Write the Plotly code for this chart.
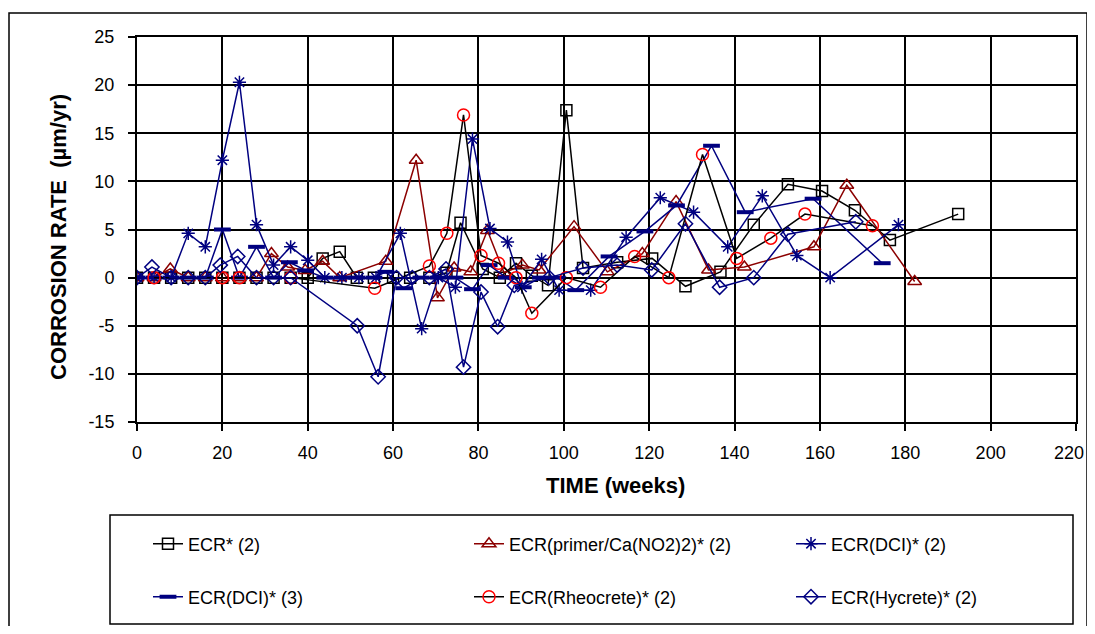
import plotly.graph_objects as go

# weeks / corrosion rate (um/yr)
ecr_x = [0, 4, 8, 12, 16, 20, 24, 28, 32, 36, 40, 43.5, 47.5, 51.5, 55.5, 60, 64, 68.5, 72.5, 75.8,
         81, 85, 88.8, 92.5, 96.3, 100.6, 104.5, 112.5, 120.7, 128.5, 136.7, 144.5, 152.5, 160.5,
         168.2, 176.4, 192.4]
ecr_y = [0, 0, 0, 0, 0, 0, 0, 0, 0, 0, 0, 2.0, 2.7, 0, 0, 0, 0, 0, 0.5, 5.7,
         0.9, 0, 1.5, 0.2, -0.8, 17.4, 1.0, 1.6, 2.0, -0.9, 0.6, 5.5, 9.7, 9.0,
         7.0, 3.9, 6.6]

primer_x = [0, 4, 7.8, 12, 16, 20, 24, 28, 31.5, 35.3, 39.4, 43.5, 47.5, 58.3, 65.4, 70.4, 74.3,
            78.2, 82.1, 86, 90.3, 94.2, 102.4, 110.2, 118.4, 126.3, 133.9, 142.3, 158.6, 166.3, 182.2]
primer_y = [0, 0, 0.9, 0, 0, 0, 0, 0, 2.5, 1.1, 0.75, 1.7, 0, 1.7, 12.2, -2.1, 1.0,
            0.6, 4.9, 0.5, 1.3, 0.8, 5.3, 0.6, 2.5, 7.9, 0.8, 1.1, 3.2, 9.6, -0.4]

dci2_x = [0, 4, 8, 12, 16, 20, 24, 28, 32, 36, 40, 44, 48, 52, 56, 61.7, 66.7, 70.6, 74.6, 78.6,
          82.7, 86.8, 90.2, 94.8, 98.9, 106.3, 114.6, 122.6, 130.4, 138.4, 146.5, 154.6, 162.4, 178.4]
dci2_y = [0, 0, 0, 4.6, 3.2, 12.2, 20.3, 5.5, 1.3, 3.2, 1.8, 0, 0, 0, 0, 4.6, -5.3, 0, -1.0, 14.4,
          5.1, 3.7, -1.0, 1.9, -1.3, -1.3, 4.2, 8.3, 6.8, 3.2, 8.5, 2.3, 0, 5.5]

dci3_x = [0, 4, 8, 12, 16, 20, 24, 28, 32, 35.7, 39.5, 44, 48, 51.5, 55.5, 58.3, 62.5, 66.5, 70.5,
          74.5, 78.6, 82.5, 86.5, 90.5, 94.5, 98.5, 102.8, 110.6, 119, 126.4, 134.6, 142.5, 158.4, 174.6]
dci3_y = [0, 0, 0, 0, 0, 5.0, 0, 3.2, 0, 1.6, 0.75, 0, 0, 0, 0, 0.6, -1.1, 0, 0,
          0, -1.2, 1.3, 0, -1.0, 0, 0, -1.3, 2.2, 4.8, 7.5, 13.7, 6.8, 8.2, 1.5]

rheo_x = [4, 20, 24, 36, 55.7, 68.5, 72.6, 76.5, 80.6, 84.7, 88.8, 92.5, 100.6, 108.6, 116.6,
          124.6, 132.5, 140.5, 148.5, 156.5, 172.3]
rheo_y = [0, 0, 0, 0, -1.1, 1.2, 4.6, 16.9, 2.3, 1.5, 0, -3.7, 0, -1.0, 2.2,
          0, 12.8, 2.0, 4.1, 6.6, 5.4]

hyc_x = [0, 3.5, 8, 12, 16, 19.5, 23.6, 28, 32, 36, 51.6, 56.5, 60.8, 64.5, 68.5, 72.4, 76.5, 80.6,
         84.5, 88.4, 96.6, 104.5, 112.5, 120.6, 128.5, 136.5, 144.5, 152.5, 168.4]
hyc_y = [0, 1.1, 0, 0, 0, 1.3, 2.2, 0, 0, 0, -5.0, -10.3, 0, 0, 0, 0.9, -9.3, -1.5,
         -5.1, -0.8, 0, 1.0, 1.3, 0.8, 5.6, -1.0, 0, 4.5, 5.8]

# tick labels (plain hyphen minus like the original)
x_ticks = [0, 20, 40, 60, 80, 100, 120, 140, 160, 180, 200, 220]
x_ticklabels = ['0', '20', '40', '60', '80', '100', '120', '140', '160', '180', '200', '220']
y_ticks = [-15, -10, -5, 0, 5, 10, 15, 20, 25]
y_ticklabels = ['-15', '-10', '-5', '0', '5', '10', '15', '20', '25']

NAVY = '#000080'
MAROON = '#8B0000'
FONT = 'Arial, Liberation Sans, sans-serif'

# the page body has an 8px margin, so the figure is offset and
# everything below is given in page pixels
OFF = 8
W, H = 1095 - OFF, 634 - 2 * OFF
L, R, T, B = 137, 1076, 37, 422   # plot area, page pixels


def px(x):
    return (x - L) / (R - L)


def py(y):
    return (B - y) / (B - T)


fig = go.Figure()

series = [
    ('ECR* (2)', ecr_x, ecr_y, 'black', dict(symbol='square-open', size=11, color='black')),
    ('ECR(primer/Ca(NO2)2)* (2)', primer_x, primer_y, MAROON,
     dict(symbol='triangle-up-open', size=12, color=MAROON)),
    ('ECR(DCI)* (2)', dci2_x, dci2_y, NAVY, dict(symbol='asterisk-open', size=11, color=NAVY)),
    ('ECR(DCI)* (3)', dci3_x, dci3_y, NAVY,
     dict(symbol='line-ew-open', size=12, color=NAVY, line=dict(width=4, color=NAVY))),
    ('ECR(Rheocrete)* (2)', rheo_x, rheo_y, 'black', dict(symbol='circle-open', size=12, color='red')),
    ('ECR(Hycrete)* (2)', hyc_x, hyc_y, NAVY, dict(symbol='diamond-open', size=11, color=NAVY)),
]

# one legend per entry so the 3x2 grid lines up like the original
leg_pos = [(148, 544), (469, 544), (791, 544), (148, 597), (469, 597), (791, 597)]

legends = {}
for i, (name, xs, ys, lc, mk) in enumerate(series):
    mk.setdefault('line', dict(width=1.5, color=mk['color']))
    lg = 'legend' if i == 0 else 'legend%d' % (i + 1)
    fig.add_trace(go.Scatter(
        x=xs, y=ys, name=name, mode='lines+markers',
        line=dict(color=lc, width=1.5),
        marker=mk,
        legend=lg, showlegend=True,
    ))
    lx, ly = leg_pos[i]
    legends[lg] = dict(x=px(lx), y=py(ly), xanchor='left', yanchor='middle',
                       bgcolor='rgba(0,0,0,0)', borderwidth=0,
                       font=dict(size=18, family=FONT, color='black'))

axis_common = dict(
    showgrid=True, gridcolor='black', gridwidth=1.8,
    zeroline=False, automargin=False,
    showline=True, linecolor='black', linewidth=2, mirror=True,
    ticks='outside', ticklen=7, tickcolor='black', tickwidth=1.5,
    tickfont=dict(family=FONT, size=18, color='black'),
)

# the last x label sits on the page edge, so it is drawn as a
# right-anchored note instead of an axis label
fig.update_layout(
    width=W, height=H,
    margin=dict(l=L - OFF, r=W - (R - OFF), t=T - OFF, b=H - (B - OFF), autoexpand=False),
    paper_bgcolor='white', plot_bgcolor='white',
    font=dict(family=FONT, color='black'),
    showlegend=True,
    xaxis=dict(range=[0, 220], tickmode='array', tickvals=x_ticks,
               ticktext=x_ticklabels[:-1] + [''], ticklabelstandoff=6, **axis_common),
    yaxis=dict(range=[-15, 25], tickmode='array', tickvals=y_ticks, ticktext=y_ticklabels,
               ticklabelstandoff=10, **axis_common),
    annotations=[
        dict(text=x_ticklabels[-1], xref='paper', yref='paper', x=px(1086), y=py(453),
             xanchor='right', yanchor='middle', showarrow=False,
             font=dict(size=18, family=FONT)),
        dict(text='<b>TIME (weeks)</b>', xref='paper', yref='paper', x=px(615), y=py(485),
             xanchor='center', yanchor='middle',
             showarrow=False, font=dict(size=22, family=FONT)),
        dict(text='<b>CORROSION RATE  (µm/yr)</b>', xref='paper', yref='paper', x=px(59), y=py(237),
             xanchor='center', yanchor='middle',
             showarrow=False, textangle=-90, font=dict(size=22, family=FONT)),
    ],
    shapes=[
        # legend box
        dict(type='rect', xref='paper', yref='paper', x0=px(110), x1=px(1073), y0=py(624), y1=py(515),
             line=dict(color='black', width=1.5), fillcolor='rgba(0,0,0,0)'),
        # chart frame
        dict(type='rect', xref='paper', yref='paper', x0=px(9), x1=px(1087), y0=py(645), y1=py(13),
             line=dict(color='black', width=1.5), fillcolor='rgba(0,0,0,0)'),
    ],
    **legends,
)

fig.write_html("out.html")
